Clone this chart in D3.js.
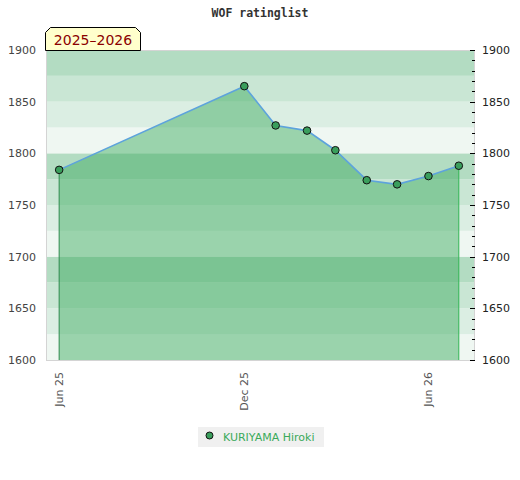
<!DOCTYPE html>
<html><head><meta charset="utf-8">
<script src="https://cdn.jsdelivr.net/npm/d3@7"></script>
<style>body{margin:0;background:#fff}svg{display:block}</style>
</head><body>
<script>
const title = "WOF ratinglist";
const seasonLabel = "2025–2026";
const playerName = "KURIYAMA Hiroki";
const dates = ["2025-06-01","2025-12-01","2026-01-01","2026-02-01","2026-03-01","2026-04-01","2026-05-01","2026-06-01","2026-07-01"];
const ratings = [1784,1865,1827,1822,1803,1774,1770,1778,1788];
const xDomain = ["2025-05-19","2026-07-17"];
const yTicks = [1600,1650,1700,1750,1800,1850,1900];
const xTickDates = ["2025-06-01","2025-12-01","2026-06-01"];

const W=520,H=480;
const m={l:46,r:475,t:50,b:360};
const parse=d3.timeParse("%Y-%m-%d");
const data=dates.map((d,i)=>({date:parse(d),v:ratings[i]}));
const x=d3.scaleTime().domain(xDomain.map(parse)).range([m.l,m.r]);
const y=d3.scaleLinear().domain([1600,1900]).range([m.b,m.t]);

const svg=d3.select("body").append("svg").attr("width",W).attr("height",H);
const font="DejaVu Sans, Verdana, sans-serif";

// bands
const bandColors=["#eff7f2","#dbeee3","#c9e6d4","#b3dcc2"];
const bands=d3.range(1600,1900,25);
svg.append("g").selectAll("rect").data(bands).join("rect")
  .attr("x",m.l).attr("width",m.r-m.l)
  .attr("y",d=>y(d+25)).attr("height",d=>y(d)-y(d+25))
  .attr("fill",(d,i)=>bandColors[i%4]);

// border
svg.append("rect").attr("x",m.l+0.5).attr("y",m.t+0.5).attr("width",m.r-m.l-1).attr("height",m.b-m.t)
  .attr("fill","none").attr("stroke","#d4d4d4");

// area
const area=d3.area().x(d=>x(d.date)).y0(y(1600)).y1(d=>y(d.v));
svg.append("path").datum(data).attr("d",area).attr("fill","rgba(59,170,94,0.47)");
// edge lines
const first=data[0],last=data[data.length-1];
svg.append("line").attr("x1",x(first.date)).attr("x2",x(first.date)).attr("y1",y(first.v)).attr("y2",y(1600))
  .attr("stroke","#2e8b4e").attr("stroke-width",1);
svg.append("line").attr("x1",x(last.date)).attr("x2",x(last.date)).attr("y1",y(last.v)).attr("y2",y(1600))
  .attr("stroke","#33b555").attr("stroke-width",1);

// line
const line=d3.line().x(d=>x(d.date)).y(d=>y(d.v));
svg.append("path").datum(data).attr("d",line).attr("fill","none").attr("stroke","#5da3dc").attr("stroke-width",1.6);

// markers
svg.append("g").selectAll("circle").data(data).join("circle")
  .attr("cx",d=>x(d.date)).attr("cy",d=>y(d.v)).attr("r",3.8)
  .attr("fill","#3a9e5c").attr("stroke","#111").attr("stroke-width",1);

// left axis labels
svg.append("g").selectAll("text").data(yTicks).join("text")
  .attr("x",36).attr("y",d=>y(d)+4).attr("text-anchor","end")
  .attr("font-family",font).attr("font-size",11).attr("fill","#444").text(d=>d);

// right minor ticks
const minor=d3.range(1600,1901,10);
svg.append("g").selectAll("line").data(minor).join("line")
  .attr("x1",d=>d%50===0?470:472).attr("x2",475)
  .attr("y1",d=>Math.round(y(d))+0.5).attr("y2",d=>Math.round(y(d))+0.5)
  .attr("stroke","#000").attr("stroke-width",1);
svg.append("g").selectAll("text").data(yTicks).join("text")
  .attr("x",482).attr("y",d=>y(d)+4).attr("text-anchor","start")
  .attr("font-family",font).attr("font-size",11).attr("fill","#222").text(d=>d);

// x labels
const fmt=d3.timeFormat("%b %y");
svg.append("g").selectAll("text").data(xTickDates.map(parse)).join("text")
  .attr("transform",d=>`translate(${x(d)+4},372) rotate(-90)`)
  .attr("text-anchor","end")
  .attr("font-family",font).attr("font-size",11).attr("fill","#555").text(d=>fmt(d));

// title
svg.append("text").attr("x",260).attr("y",17).attr("text-anchor","middle")
  .attr("font-family","DejaVu Sans Mono, monospace").attr("font-weight","bold").attr("font-size",11.5)
  .attr("fill","#333").text(title);

// season label box
const bx=45.5,by=27.5,bw=95,bh=23,c=5;
svg.append("path").attr("d",`M${bx},${by+bh}L${bx},${by+c}L${bx+c},${by}L${bx+bw-c},${by}L${bx+bw},${by+c}L${bx+bw},${by+bh}Z`)
  .attr("fill","#ffffcc").attr("stroke","#000").attr("stroke-width",1);
svg.append("text").attr("x",bx+bw/2).attr("y",45).attr("text-anchor","middle")
  .attr("font-family",font).attr("font-size",14).attr("fill","#8b0000").text(seasonLabel);

// legend
const lg=svg.append("g");
lg.append("rect").attr("x",198).attr("y",427).attr("width",126).attr("height",20).attr("fill","#f0f0f0");
lg.append("circle").attr("cx",209.5).attr("cy",435.5).attr("r",3.5).attr("fill","#3a9e5c").attr("stroke","#111");
lg.append("text").attr("x",223).attr("y",441).attr("font-family",font).attr("font-size",11)
  .attr("fill","#3aaa5a").text(playerName);
</script>
</body></html>
